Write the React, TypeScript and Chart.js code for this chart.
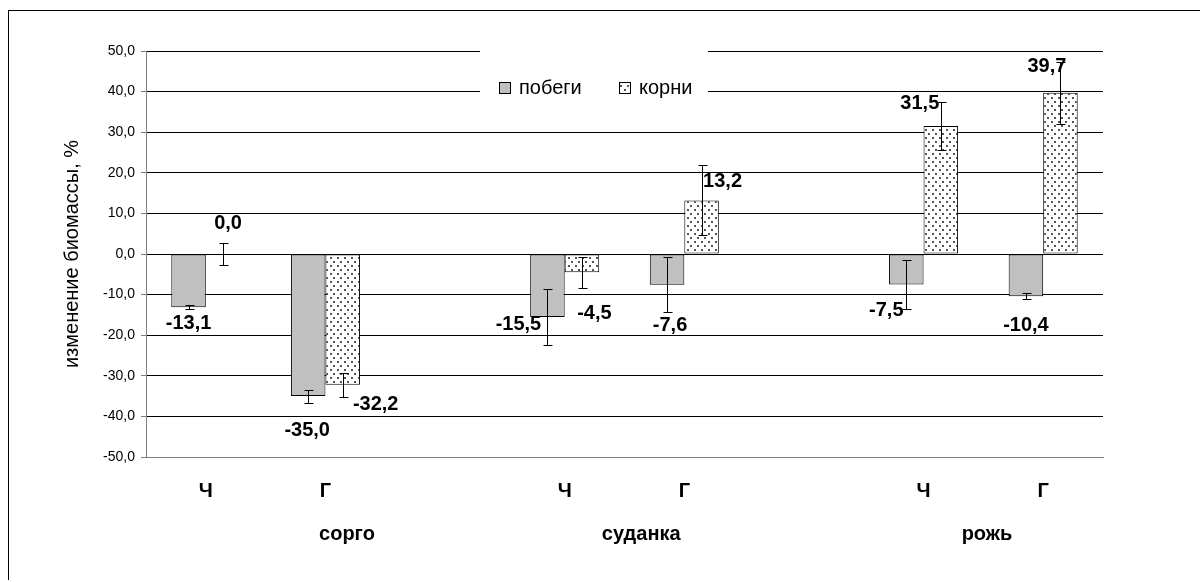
import React, { useEffect, useRef } from "react";
import { Chart, registerables } from "chart.js";

Chart.register(...registerables);

// ---- data ----
const categories = ["Ч", "Г", "", "Ч", "Г", "", "Ч", "Г"];
const shoots = [-13.1, -35.0, null, -15.5, -7.6, null, -7.5, -10.4];
const roots = [0.0, -32.2, null, -4.5, 13.2, null, 31.5, 39.7];
const shootErr = [0.5, 1.6, null, 7.0, 6.8, null, 6.0, 0.75];
const rootErr = [2.6, 3.0, null, 3.8, 8.6, null, 5.9, 7.6];
const seriesNames = ["побеги", "корни"];
const groups = ["сорго", "суданка", "рожь"];
const groupAt = [1.18, 3.64, 6.53];
const yTitle = "изменение биомассы, %";

// label nudges (px) relative to the bar end
const shootLabelOffset = [[0, 16], [-1, 34], null, [-29, 8], [3, 41], null, [-20, 26], [0, 29]];
const rootLabelOffset = [[5, -30.5], [33, 20], null, [12.5, 41], [21, -18.6], null, [-21, -23], [-13.6, -26]];

const FONT = '"Liberation Sans", Arial, sans-serif';

function makeDots(): CanvasPattern | string {
  const c = document.createElement("canvas");
  c.width = 7;
  c.height = 8;
  const g = c.getContext("2d");
  if (!g) return "#fff";
  g.fillStyle = "#fff";
  g.fillRect(0, 0, 7, 8);
  g.fillStyle = "#555";
  g.fillRect(1, 1, 2, 2);
  g.fillRect(4, 5, 2, 2);
  const p = g.createPattern(c, "repeat");
  return p || "#fff";
}

const fmt = (v: number) => v.toFixed(1).replace(".", ",");

export default function App() {
  const ref = useRef<HTMLCanvasElement | null>(null);

  useEffect(() => {
    if (!ref.current) return;
    const dots = makeDots();
    const errs = [shootErr, rootErr];
    const offs = [shootLabelOffset, rootLabelOffset];

    const overlay = {
      id: "overlay",
      afterDatasetsDraw(chart: any) {
        const ctx = chart.ctx;
        const ys = chart.scales.y;
        ctx.save();
        ctx.strokeStyle = "#000";
        ctx.lineWidth = 1;
        for (let di = 0; di < 2; di++) {
          const meta = chart.getDatasetMeta(di);
          const vals = chart.data.datasets[di].data;
          meta.data.forEach((el: any, j: number) => {
            const v = vals[j];
            const e = errs[di][j];
            if (v == null || e == null) return;
            const x = Math.round(el.x) + 0.5;
            const t = Math.round(ys.getPixelForValue(v + e)) + 0.5;
            const b = Math.round(ys.getPixelForValue(v - e)) + 0.5;
            ctx.beginPath();
            ctx.moveTo(x, t);
            ctx.lineTo(x, b);
            ctx.moveTo(x - 4, t);
            ctx.lineTo(x + 5, t);
            ctx.moveTo(x - 4, b);
            ctx.lineTo(x + 5, b);
            ctx.stroke();
          });
        }
        // data labels
        ctx.fillStyle = "#000";
        ctx.font = `bold 20px ${FONT}`;
        ctx.textAlign = "center";
        ctx.textBaseline = "middle";
        for (let di = 0; di < 2; di++) {
          const meta = chart.getDatasetMeta(di);
          const vals = chart.data.datasets[di].data;
          meta.data.forEach((el: any, j: number) => {
            const v = vals[j];
            const o = offs[di][j];
            if (v == null || !o) return;
            ctx.fillText(fmt(v), el.x + o[0], el.y + o[1]);
          });
        }
        ctx.restore();
      },
      afterDraw(chart: any) {
        const ctx = chart.ctx;
        const xs = chart.scales.x;
        const area = chart.chartArea;
        ctx.save();
        // group labels
        ctx.fillStyle = "#000";
        ctx.font = `bold 20px ${FONT}`;
        ctx.textAlign = "center";
        ctx.textBaseline = "alphabetic";
        groups.forEach((g, i) => {
          ctx.fillText(g, xs.getPixelForValue(groupAt[i]), area.bottom + 83);
        });
        // legend
        const lx = area.left + 334;
        const ly = area.top - 6;
        ctx.fillStyle = "#fff";
        ctx.fillRect(lx, ly, 228, 66);
        const cy = area.top + 37;
        const items = [
          { x: lx + 19, fill: chart.data.datasets[0].backgroundColor },
          { x: lx + 139, fill: chart.data.datasets[1].backgroundColor },
        ];
        ctx.font = `20px ${FONT}`;
        ctx.textAlign = "left";
        ctx.textBaseline = "middle";
        items.forEach((it, i) => {
          ctx.fillStyle = it.fill;
          ctx.fillRect(it.x, cy - 6, 12, 12);
          ctx.strokeStyle = "#000";
          ctx.lineWidth = 1;
          ctx.strokeRect(it.x + 0.5, cy - 5.5, 11, 11);
          ctx.fillStyle = "#000";
          ctx.fillText(seriesNames[i], it.x + 20, cy);
        });
        ctx.restore();
      },
    };

    const chart = new Chart(ref.current, {
      type: "bar",
      data: {
        labels: categories,
        datasets: [
          {
            label: seriesNames[0],
            data: shoots,
            backgroundColor: "#C0C0C0",
            borderColor: "#000",
            borderWidth: 1,
            borderSkipped: false,
          },
          {
            label: seriesNames[1],
            data: roots,
            backgroundColor: dots as any,
            borderColor: "#000",
            borderWidth: 1,
            borderSkipped: false,
          },
        ],
      },
      options: {
        animation: false,
        responsive: false,
        devicePixelRatio: 1,
        layout: { padding: { left: 0, top: 51, right: 98, bottom: 0 } },
        datasets: { bar: { categoryPercentage: 0.577, barPercentage: 1 } },
        plugins: {
          legend: { display: false },
          title: { display: false },
          tooltip: { enabled: false },
        },
        scales: {
          x: {
            grid: { display: false, drawTicks: false },
            border: { display: true, color: "#808080", width: 1 },
            ticks: {
              autoSkip: false,
              maxRotation: 0,
              minRotation: 0,
              padding: 22,
              color: "#000",
              font: { family: FONT, size: 20, weight: "bold" },
            },
            afterFit: (s: any) => {
              s.height = 125;
            },
          },
          y: {
            min: -50,
            max: 50,
            grid: { color: "#000", tickColor: "#808080", tickLength: 5, lineWidth: 1 },
            border: { display: true, color: "#808080", width: 1 },
            ticks: {
              stepSize: 10,
              padding: 6,
              color: "#000",
              font: { family: FONT, size: 14 },
              callback: (v: any) => fmt(Number(v)),
            },
            title: {
              display: true,
              text: yTitle,
              color: "#000",
              font: { family: FONT, size: 20 },
              padding: { top: 60, bottom: 0 },
            },
            afterFit: (s: any) => {
              s.width = 146;
            },
          },
        },
      },
      plugins: [overlay],
    } as any);

    return () => chart.destroy();
  }, []);

  return (
    <>
      <div
        style={{
          position: "absolute",
          left: 8,
          top: 10,
          width: 1192,
          height: 570,
          borderLeft: "1px solid #000",
          borderTop: "1px solid #000",
          boxSizing: "border-box",
        }}
      />
      <canvas
        ref={ref}
        width={1201}
        height={582}
        style={{ position: "absolute", left: 0, top: 0, display: "block" }}
      />
    </>
  );
}
